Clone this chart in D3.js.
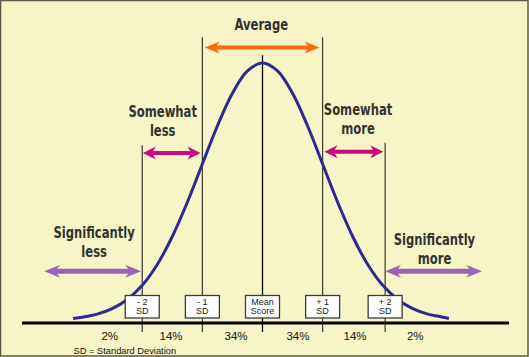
<!DOCTYPE html>
<html><head><meta charset="utf-8">
<script src="https://cdn.jsdelivr.net/npm/d3@7"></script>
<style>
html,body{margin:0;padding:0;background:#fff;}
svg{display:block;}
</style></head>
<body>
<script>
// ---- data ----
// bell curve: position in SD units, relative height (1 = peak)
const curveZ = [-3.15,-3.0,-2.75,-2.5,-2.25,-2.0,-1.75,-1.5,-1.25,-1.0,-0.75,-0.5,-0.25,0.0,0.25,0.5,0.75,1.0,1.25,1.5,1.75,2.0,2.25,2.5,2.75,3.0,3.1];
const curveH = [0.006,0.011,0.023,0.044,0.080,0.135,0.216,0.325,0.458,0.607,0.755,0.882,0.969,1.0,0.969,0.882,0.755,0.607,0.458,0.325,0.216,0.135,0.080,0.044,0.023,0.011,0.006];
// SD markers
const markerZ = [-2, -1, 0, 1, 2.04];
const markerLine1 = ["- 2", "- 1", "Mean", "+ 1", "+ 2"];
const markerLine2 = ["SD", "SD", "Score", "SD", "SD"];
const markerTop = [0.68, 1.1, 1.03, 1.1, 0.69]; // top of each vertical line (relative height)
// percentage bands
const bandZ = [-2.54, -1.52, -0.44, 0.59, 1.54, 2.54];
const bandPct = ["2%", "14%", "34%", "34%", "14%", "2%"];
// annotation arrows: from z, to z, height
const arrowFrom = [-0.96, -1.99, 1.03, -3.63, 2.04];
const arrowTo   = [0.95, -1.03, 2.01, -2.02, 3.65];
const arrowH    = [1.06, 0.65, 0.655, 0.19, 0.19];
const arrowKind = ["avg", "some", "some", "sig", "sig"];
// labels
const labelLines = [["Average"], ["Somewhat","less"], ["Somewhat","more"], ["Significantly","less"], ["Significantly","more"]];
const labelZ = [-0.02, -1.66, 1.59, -2.8, 2.86];
const labelH = [1.128, 0.788, 0.799, 0.319, 0.293];
const footnote = "SD = Standard Deviation";

// ---- drawing ----
const W = 529, H = 357;
const svg = d3.select("body").append("svg").attr("width", W).attr("height", H);
svg.append("rect").attr("x",0).attr("y",0).attr("width",W).attr("height",H).attr("fill","#F7F5C7");
svg.append("rect").attr("x",0.5).attr("y",0.5).attr("width",W-1.5).attr("height",H-1.5)
  .attr("fill","none").attr("stroke","#5b5a47").attr("stroke-width",1.5);

const x = d3.scaleLinear().domain([-4, 4.1]).range([22, 509]);
const y = d3.scaleLinear().domain([0, 1]).range([320, 63]);
const baseY = 323;

const colors = {avg:"#FF6A10", some:"#CC0A80", sig:"#9B63B4"};

// vertical marker lines
markerZ.forEach((z,i)=>{
  svg.append("line").attr("x1",x(z)).attr("x2",x(z))
    .attr("y1",y(markerTop[i])).attr("y2",baseY+9)
    .attr("stroke", i===2 ? "#000" : "#3a3a30").attr("stroke-width", i===2?1.3:1.2);
});

// curve
const line = d3.line().x((d,i)=>x(curveZ[i])).y(d=>y(d)).curve(d3.curveCatmullRom);
svg.append("path").datum(curveH).attr("d", line).attr("fill","none")
  .attr("stroke","#2B2A8E").attr("stroke-width",3).attr("stroke-linecap","butt");

// baseline
svg.append("line").attr("x1",22).attr("x2",509).attr("y1",baseY).attr("y2",baseY)
  .attr("stroke","#000").attr("stroke-width",3);

// marker boxes
markerZ.forEach((z,i)=>{
  const cx = x(z);
  const g = svg.append("g");
  g.append("rect").attr("x",cx-17).attr("y",295.5).attr("width",34).attr("height",22.5)
    .attr("fill","#fff").attr("stroke","#3b3b3b").attr("stroke-width",1.3);
  g.append("text").attr("x",cx).attr("y",305).attr("text-anchor","middle")
    .attr("font-family","Liberation Sans, Arial, sans-serif").attr("font-size",9).attr("fill","#222")
    .text(markerLine1[i]);
  g.append("text").attr("x",cx).attr("y",314).attr("text-anchor","middle")
    .attr("font-family","Liberation Sans, Arial, sans-serif").attr("font-size",9).attr("fill","#222")
    .text(markerLine2[i]);
});

// percentages
bandZ.forEach((z,i)=>{
  svg.append("text").attr("x",x(z)).attr("y",339.5).attr("text-anchor","middle")
    .attr("font-family","Liberation Sans, Arial, sans-serif").attr("font-size",11.5).attr("fill","#111")
    .text(bandPct[i]);
});
svg.append("text").attr("x",73.5).attr("y",353.5).attr("font-family","Liberation Sans, Arial, sans-serif")
  .attr("font-size",9.3).attr("fill","#111").text(footnote);

// arrows
function dblArrow(x1, x2, yy, color, shaft, headW, headL){
  const p = d3.path();
  const h = shaft/2, hw = headW/2;
  p.moveTo(x1, yy);
  p.lineTo(x1+headL, yy-hw);
  p.lineTo(x1+headL*0.8, yy-h);
  p.lineTo(x2-headL*0.8, yy-h);
  p.lineTo(x2-headL, yy-hw);
  p.lineTo(x2, yy);
  p.lineTo(x2-headL, yy+hw);
  p.lineTo(x2-headL*0.8, yy+h);
  p.lineTo(x1+headL*0.8, yy+h);
  p.lineTo(x1+headL, yy+hw);
  p.closePath();
  svg.append("path").attr("d", p.toString()).attr("fill", color);
}
arrowFrom.forEach((z,i)=>{
  const k = arrowKind[i];
  const sz = k==="avg" ? [4,12,15] : k==="some" ? [4,13,13] : [5,13,16];
  dblArrow(x(z), x(arrowTo[i]), y(arrowH[i]), colors[k], sz[0], sz[1], sz[2]);
});

// labels (narrow hand-lettered look: condensed bold, squeezed horizontally)
labelLines.forEach((lines,i)=>{
  const cx = x(labelZ[i]);
  lines.forEach((t,j)=>{
    const by = y(labelH[i]) + j*19;
    svg.append("text").attr("transform",`translate(${cx},${by}) scale(0.86,1)`)
      .attr("text-anchor","middle")
      .attr("font-family","'DejaVu Sans Condensed', 'DejaVu Sans', sans-serif")
      .attr("font-weight","bold").attr("font-size",15).attr("fill","#333")
      .text(t);
  });
});
</script>
</body></html>
